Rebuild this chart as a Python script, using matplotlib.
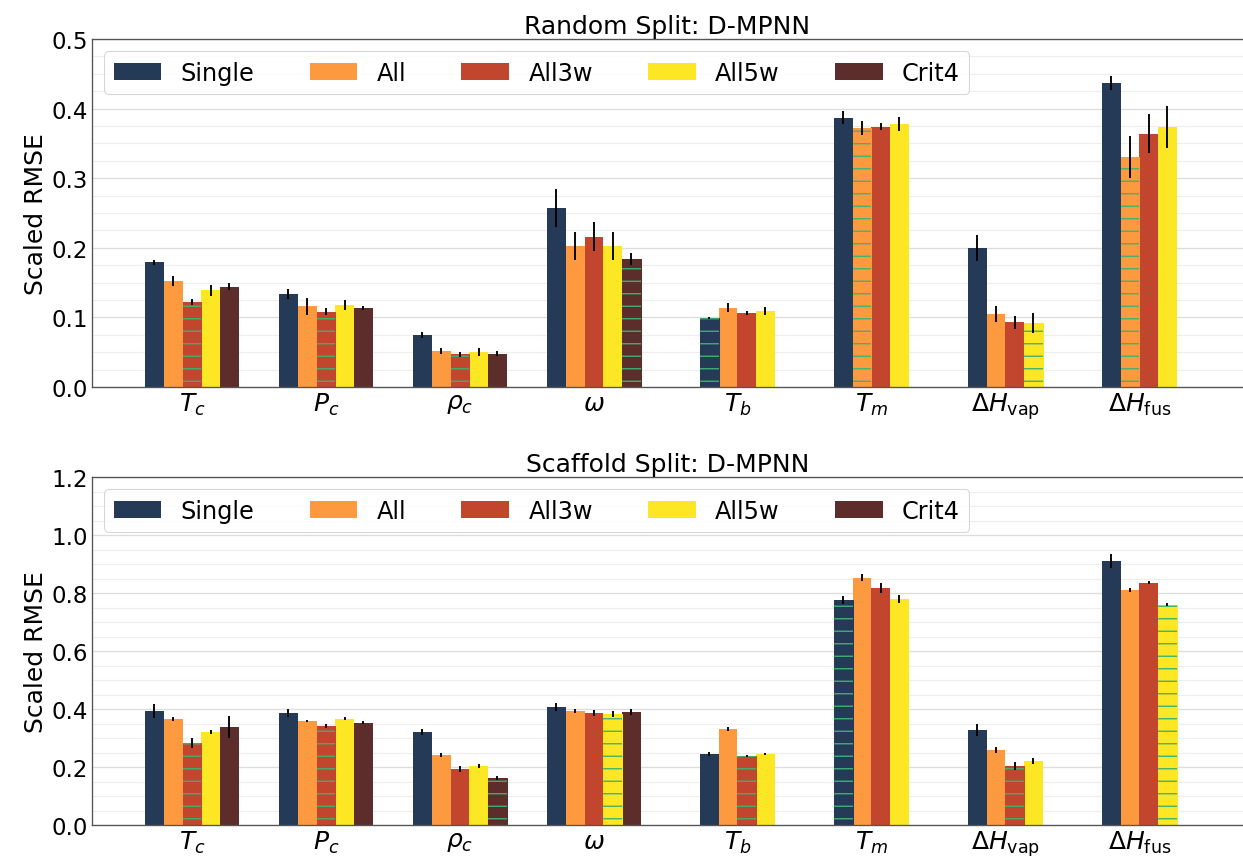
import numpy as np
import matplotlib
matplotlib.use('Agg')
import matplotlib.pyplot as plt
from matplotlib.ticker import AutoMinorLocator, MultipleLocator

# --- data ---
props = [r'$T_c$', r'$P_c$', r'$\rho_c$', r'$\omega$', r'$T_b$', r'$T_m$',
         r'$\Delta H_{\rm vap}$', r'$\Delta H_{\rm fus}$']
models = ['Single', 'All', 'All3w', 'All5w', 'Crit4']
colors = ['#243a56', '#fd9a40', '#c1462d', '#fde725', '#5c2d2a']

# random split
rand_single = [0.179, 0.134, 0.075, 0.257, 0.099, 0.387, 0.200, 0.437]
rand_all    = [0.152, 0.116, 0.052, 0.203, 0.114, 0.372, 0.105, 0.331]
rand_all3w  = [0.122, 0.108, 0.047, 0.216, 0.106, 0.374, 0.093, 0.364]
rand_all5w  = [0.139, 0.118, 0.050, 0.203, 0.109, 0.378, 0.092, 0.374]
rand_crit4  = [0.144, 0.114, 0.048, 0.184, 0.0, 0.0, 0.0, 0.0]

rand_single_err = [0.004, 0.007, 0.004, 0.027, 0.001, 0.009, 0.019, 0.010]
rand_all_err    = [0.007, 0.012, 0.004, 0.020, 0.006, 0.010, 0.011, 0.030]
rand_all3w_err  = [0.004, 0.005, 0.004, 0.021, 0.003, 0.005, 0.009, 0.028]
rand_all5w_err  = [0.008, 0.007, 0.006, 0.020, 0.006, 0.010, 0.014, 0.030]
rand_crit4_err  = [0.005, 0.003, 0.004, 0.009, 0.0, 0.0, 0.0, 0.0]

# scaffold split
scaf_single = [0.393, 0.386, 0.321, 0.407, 0.245, 0.776, 0.328, 0.910]
scaf_all    = [0.366, 0.359, 0.241, 0.393, 0.331, 0.852, 0.259, 0.810]
scaf_all3w  = [0.283, 0.340, 0.193, 0.386, 0.238, 0.817, 0.203, 0.835]
scaf_all5w  = [0.321, 0.366, 0.203, 0.382, 0.245, 0.779, 0.221, 0.759]
scaf_crit4  = [0.338, 0.352, 0.162, 0.390, 0.0, 0.0, 0.0, 0.0]

scaf_single_err = [0.024, 0.015, 0.011, 0.013, 0.006, 0.014, 0.021, 0.023]
scaf_all_err    = [0.007, 0.004, 0.008, 0.008, 0.006, 0.012, 0.011, 0.006]
scaf_all3w_err  = [0.017, 0.007, 0.009, 0.009, 0.005, 0.018, 0.014, 0.005]
scaf_all5w_err  = [0.008, 0.005, 0.006, 0.010, 0.005, 0.013, 0.010, 0.005]
scaf_crit4_err  = [0.037, 0.005, 0.007, 0.009, 0.0, 0.0, 0.0, 0.0]

rand_means = [rand_single, rand_all, rand_all3w, rand_all5w, rand_crit4]
rand_errs = [rand_single_err, rand_all_err, rand_all3w_err, rand_all5w_err, rand_crit4_err]
scaf_means = [scaf_single, scaf_all, scaf_all3w, scaf_all5w, scaf_crit4]
scaf_errs = [scaf_single_err, scaf_all_err, scaf_all3w_err, scaf_all5w_err, scaf_crit4_err]

W = 0.14
HATCH_COLOR = '#3cb371'

plt.rcParams['font.family'] = 'DejaVu Sans'
plt.rcParams['hatch.linewidth'] = 1.3

fig = plt.figure(figsize=(1243 / 75, 857 / 75), dpi=75)
ax1 = fig.add_axes([92 / 1243, 1 - 388 / 857, 1 - 92 / 1243, 348 / 857])
ax2 = fig.add_axes([92 / 1243, 1 - 826 / 857, 1 - 92 / 1243, 348 / 857])


def draw(ax, means, errs, title, ymax, major):
    m = np.array(means)
    e = np.array(errs)
    n = m.shape[1]
    missing = m[-1] == 0
    base = np.arange(n) + W * missing
    left = base - 2.5 * W
    n_valid = (m > 0).sum(axis=0)
    # best (lowest) model per property gets the hatch
    best = np.where(m > 0, m, np.inf).argmin(axis=0)

    for k, name in enumerate(models):
        xs = left + (k + 0.5) * W
        ax.bar(xs, m[k], W, color=colors[k], label=name, zorder=2,
               yerr=e[k], error_kw=dict(ecolor='black', elinewidth=1.8, capsize=0, zorder=4))
        sel = best == k
        if sel.any():
            ax.bar(xs[sel], m[k][sel], W, color=colors[k], edgecolor=colors[k],
                   linewidth=1.0, zorder=2.5)
            ax.bar(xs[sel], m[k][sel], W, facecolor='none', edgecolor=HATCH_COLOR,
                   linewidth=0, hatch='-', zorder=3)

    ax.set_xticks(left + n_valid * W / 2)
    ax.set_xticklabels(props, fontsize=24)
    ax.set_xlim(-0.7455, 7.844)
    ax.set_ylim(0, ymax)
    ax.yaxis.set_major_locator(MultipleLocator(major))
    ax.yaxis.set_minor_locator(AutoMinorLocator(4))
    ax.tick_params(axis='y', labelsize=22, length=0, which='both')
    ax.tick_params(axis='x', length=0)
    ax.grid(axis='y', which='major', color='#dddddd', linewidth=1.3, zorder=0)
    ax.grid(axis='y', which='minor', color='#eeeeee', linewidth=1.1, zorder=0)
    ax.grid(axis='x', visible=False)
    ax.set_axisbelow(True)
    for s in ['left', 'top', 'bottom']:
        ax.spines[s].set_color('#555555')
        ax.spines[s].set_linewidth(1.3)
    ax.spines['right'].set_visible(False)
    ax.set_ylabel('Scaled RMSE', fontsize=24)
    ax.set_title(title, fontsize=24)
    leg = ax.legend(ncol=5, loc='upper left', fontsize=23, columnspacing=2.3,
                    frameon=True, fancybox=True)
    leg.get_frame().set_edgecolor('#cccccc')


draw(ax1, rand_means, rand_errs, 'Random Split: D-MPNN', 0.5, 0.1)
draw(ax2, scaf_means, scaf_errs, 'Scaffold Split: D-MPNN', 1.2, 0.2)

fig.savefig('out.png', dpi=75)
